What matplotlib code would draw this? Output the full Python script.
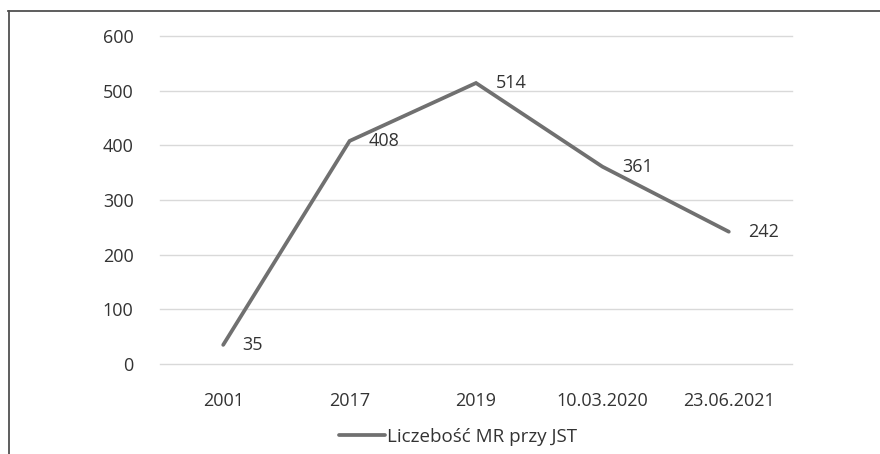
import matplotlib
matplotlib.use("Agg")
import matplotlib.pyplot as plt
from matplotlib.lines import Line2D

categories = ["2001", "2017", "2019", "10.03.2020", "23.06.2021"]
values = [35, 408, 514, 361, 242]
yticks = [0, 100, 200, 300, 400, 500, 600]
series_name = "Liczebość MR przy JST"

plt.rcParams['font.family'] = ['Open Sans', 'DejaVu Sans']
W, H = 880, 454
fig = plt.figure(figsize=(W / 100, H / 100), dpi=100)
ax = fig.add_axes([160 / W, 1 - 364 / H, (792 - 160) / W, (364 - 36) / H])

txt = "#333333"
fs = 13
x = list(range(len(categories)))
line, = ax.plot(x, values, color="#707070", lw=2.7, solid_capstyle="round",
                solid_joinstyle="miter", label=series_name, zorder=3)
ax.set_xlim(-0.5, len(categories) - 0.5)
ax.set_ylim(0, 600)
ax.set_yticks(yticks)
ax.set_yticklabels([str(t) for t in yticks])
ax.set_xticks(x)
ax.set_xticklabels(categories)
ax.grid(axis="y", color="#d9d9d9", lw=1)
for gl in ax.get_ygridlines():
    gl.set_clip_on(False)
ax.set_axisbelow(True)
for s in ax.spines.values():
    s.set_visible(False)
ax.tick_params(axis="both", length=0, labelsize=fs, labelcolor=txt)
ax.tick_params(axis="y", pad=19)
ax.tick_params(axis="x", pad=20)

for xi, v in zip(x, values):
    ax.annotate(str(v), (xi, v), xytext=(14, 0), textcoords="offset points",
                ha="left", va="center", fontsize=fs, color=txt)

leg = fig.legend(handles=[line], loc="center", bbox_to_anchor=(458 / W, 1 - 437 / H),
                 frameon=False, fontsize=13.5, handlelength=2.5, handletextpad=0.1,
                 labelcolor=txt)

fig.add_artist(Line2D([8.5 / W, 8.5 / W], [0, 1 - 10.5 / H], transform=fig.transFigure,
                      color="#505050", lw=1.3))
fig.add_artist(Line2D([8 / W, 1], [1 - 10.5 / H, 1 - 10.5 / H], transform=fig.transFigure,
                      color="#505050", lw=1.3))

fig.savefig("out.png", dpi=100)
